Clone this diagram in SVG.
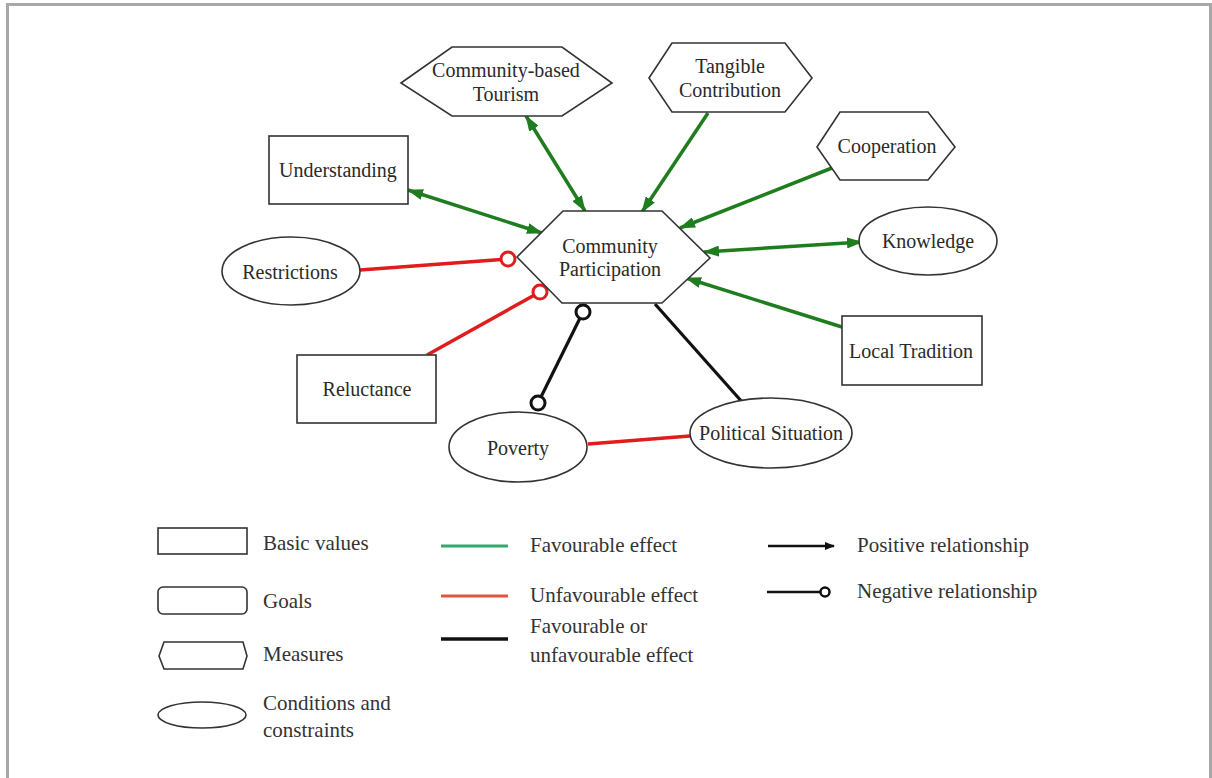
<svg xmlns="http://www.w3.org/2000/svg" width="1212" height="778" viewBox="0 0 1212 778">
<style>
.node{fill:#fff;stroke:#333;stroke-width:1.6}
.t{font-family:"Liberation Serif","Times New Roman",serif;font-size:20px;fill:#2a2a2a;text-anchor:middle}
.lt{font-family:"Liberation Serif","Times New Roman",serif;font-size:21px;fill:#333}
.g{stroke:#1f7d1f;stroke-width:3.5;fill:none}
.r{stroke:#e01c1c;stroke-width:3.5;fill:none}
.k{stroke:#111;stroke-width:3.2;fill:none}
.rc{fill:#fff;stroke:#e01c1c;stroke-width:3}
.kc{fill:#fff;stroke:#111;stroke-width:3}
</style>
<defs>
<marker id="ga" markerUnits="userSpaceOnUse" markerWidth="16" markerHeight="11" refX="15" refY="5.5" orient="auto-start-reverse">
<path d="M0,0 L16,5.5 L0,11 z" fill="#1f7d1f"/>
</marker>
<marker id="ka" markerUnits="userSpaceOnUse" markerWidth="10" markerHeight="8" refX="9" refY="4" orient="auto">
<path d="M0,0 L10,4 L0,8 z" fill="#111"/>
</marker>
</defs>
<rect x="0" y="0" width="1212" height="778" fill="#fff"/>
<path d="M7.5,790 V4.5 H1210.5 V790" fill="none" stroke="#a8a8a8" stroke-width="3"/>

<g id="connectors">
<line class="g" x1="526" y1="116" x2="585" y2="211" marker-start="url(#ga)" marker-end="url(#ga)"/>
<line class="g" x1="708" y1="113" x2="642" y2="212" marker-end="url(#ga)"/>
<line class="g" x1="408" y1="190" x2="542" y2="233" marker-start="url(#ga)" marker-end="url(#ga)"/>
<line class="g" x1="837" y1="166" x2="680" y2="228" marker-end="url(#ga)"/>
<line class="g" x1="862" y1="242" x2="704" y2="252" marker-start="url(#ga)" marker-end="url(#ga)"/>
<line class="g" x1="842" y1="327" x2="686" y2="278" marker-end="url(#ga)"/>
<line class="r" x1="360" y1="270" x2="508" y2="259"/>
<circle class="rc" cx="508" cy="259" r="7"/>
<line class="r" x1="427" y1="355" x2="540" y2="292"/>
<circle class="rc" cx="540" cy="292" r="7"/>
<line class="k" x1="583" y1="312" x2="538" y2="403"/>
<circle class="kc" cx="583" cy="312" r="7"/>
<circle class="kc" cx="538" cy="403" r="7"/>
<line class="k" x1="655" y1="304" x2="743" y2="403"/>
<line class="r" x1="588" y1="444" x2="690" y2="436"/>
</g>

<g id="community-based-tourism">
<polygon class="node" points="401,83 452,47 562,47 612,83 562,116 452,116"/>
<text class="t" x="506" y="77">Community-based</text>
<text class="t" x="506" y="101">Tourism</text>
</g>
<g id="tangible-contribution">
<polygon class="node" points="649,78 672,43 785,43 812,78 785,112 672,112"/>
<text class="t" x="730" y="73">Tangible</text>
<text class="t" x="730" y="97">Contribution</text>
</g>
<g id="cooperation">
<polygon class="node" points="817,147 840,112 928,112 955,147 928,180 840,180"/>
<text class="t" x="887" y="153">Cooperation</text>
</g>
<g id="understanding">
<rect class="node" x="269" y="136" width="139" height="68"/>
<text class="t" x="338" y="177">Understanding</text>
</g>
<g id="community-participation">
<polygon class="node" points="517,257 563,211 662,211 710,258 662,303 562,303"/>
<text class="t" x="610" y="253">Community</text>
<text class="t" x="610" y="276">Participation</text>
</g>
<g id="knowledge">
<ellipse class="node" cx="928" cy="241" rx="69" ry="34"/>
<text class="t" x="928" y="248">Knowledge</text>
</g>
<g id="local-tradition">
<rect class="node" x="842" y="316" width="140" height="69"/>
<text class="t" x="911" y="358">Local Tradition</text>
</g>
<g id="restrictions">
<ellipse class="node" cx="291" cy="271" rx="69" ry="34"/>
<text class="t" x="290" y="279">Restrictions</text>
</g>
<g id="reluctance">
<rect class="node" x="297" y="355" width="139" height="68"/>
<text class="t" x="367" y="396">Reluctance</text>
</g>
<g id="poverty">
<ellipse class="node" cx="518" cy="447" rx="69" ry="35"/>
<text class="t" x="518" y="455">Poverty</text>
</g>
<g id="political-situation">
<ellipse class="node" cx="771" cy="433" rx="81" ry="35"/>
<text class="t" x="771" y="440">Political Situation</text>
</g>

<g id="legend">
<rect class="node" x="158" y="528" width="89" height="26"/>
<text class="lt" x="263" y="550">Basic values</text>
<rect class="node" x="158" y="587" width="89" height="27" rx="5"/>
<text class="lt" x="263" y="608">Goals</text>
<polygon class="node" points="159,656 164,642 243,642 247,656 243,669 164,669"/>
<text class="lt" x="263" y="661">Measures</text>
<ellipse class="node" cx="202" cy="715" rx="44" ry="13"/>
<text class="lt" x="263" y="710">Conditions and</text>
<text class="lt" x="263" y="737">constraints</text>

<line x1="441" y1="546" x2="508" y2="546" stroke="#35a86e" stroke-width="3"/>
<text class="lt" x="530" y="552">Favourable effect</text>
<line x1="441" y1="596" x2="508" y2="596" stroke="#e2543d" stroke-width="3"/>
<text class="lt" x="530" y="602">Unfavourable effect</text>
<line x1="441" y1="639" x2="508" y2="639" stroke="#111" stroke-width="3.5"/>
<text class="lt" x="530" y="633">Favourable or</text>
<text class="lt" x="530" y="662">unfavourable effect</text>

<line x1="768" y1="546" x2="834" y2="546" stroke="#111" stroke-width="2.5" marker-end="url(#ka)"/>
<text class="lt" x="857" y="552">Positive relationship</text>
<line x1="767" y1="592" x2="821" y2="592" stroke="#111" stroke-width="2.5"/>
<circle cx="825" cy="592" r="4.5" fill="#fff" stroke="#111" stroke-width="2.5"/>
<text class="lt" x="857" y="598">Negative relationship</text>
</g>
</svg>
